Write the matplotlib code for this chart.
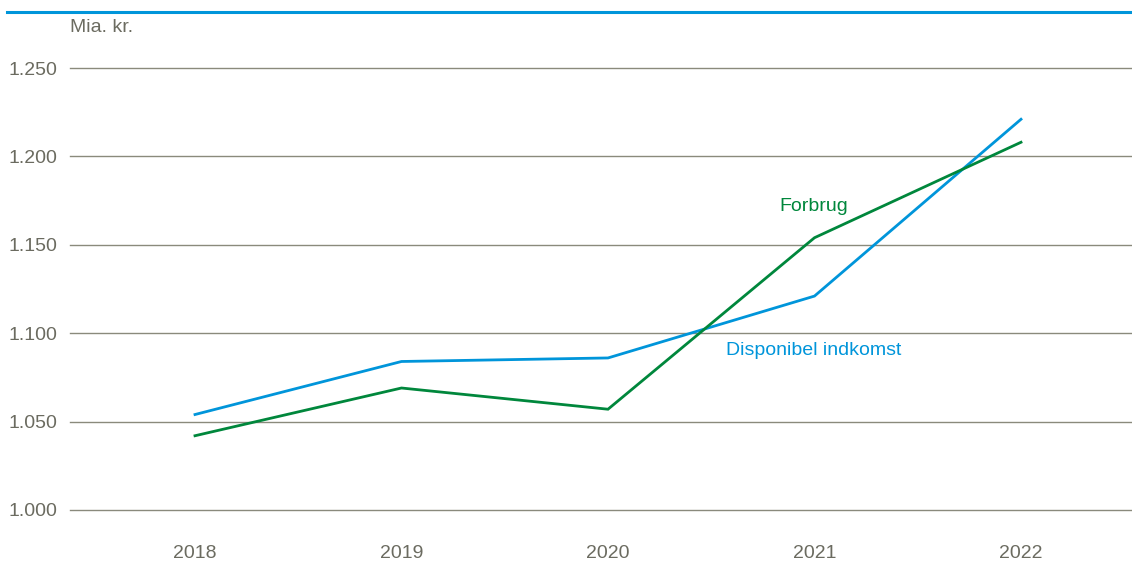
import matplotlib
matplotlib.use("Agg")
import matplotlib.pyplot as plt
from matplotlib.lines import Line2D

years = [2018, 2019, 2020, 2021, 2022]
disponibel = [1.054, 1.084, 1.086, 1.121, 1.221]
forbrug = [1.042, 1.069, 1.057, 1.154, 1.208]
yticks = [1.000, 1.050, 1.100, 1.150, 1.200, 1.250]
ytick_labels = ["1.000", "1.050", "1.100", "1.150", "1.200", "1.250"]

BLUE = "#0095DA"
GREEN = "#00873C"
GRID = "#8A8A7C"
TXT = "#6B6B60"

plt.rcParams["font.family"] = ["Liberation Sans", "DejaVu Sans"]

W, H = 1132, 568
fig = plt.figure(figsize=(W / 100, H / 100), dpi=100)
ax = fig.add_axes([70 / W, (H - 510) / H, (W - 70) / W, 442 / H])

ax.plot(years, disponibel, color=BLUE, lw=2.0, solid_joinstyle="miter", zorder=3)
ax.plot(years, forbrug, color=GREEN, lw=2.0, solid_joinstyle="miter", zorder=3)

ax.set_ylim(1.0, 1.25)
ax.set_xlim(2018 - 125 / 206.5, 2022 + 111 / 206.5)
ax.set_yticks(yticks)
ax.set_yticklabels(ytick_labels)
ax.set_xticks(years)
ax.set_xticklabels([str(y) for y in years])
for y in yticks:
    ax.axhline(y, color=GRID, lw=1.0, zorder=1, clip_on=False)

for s in ax.spines.values():
    s.set_visible(False)
ax.tick_params(axis="both", length=0, labelsize=14, colors=TXT)
ax.tick_params(axis="y", pad=9)
ax.tick_params(axis="x", pad=25)

ax.text(2021.0 - 0.17, 1.1714, "Forbrug", color=GREEN, fontsize=14, ha="left", va="center")
ax.text(2020.57, 1.0900, "Disponibel indkomst", color=BLUE, fontsize=14, ha="left", va="center")

fig.text(70 / W, 1 - 28 / H, "Mia. kr.", color=TXT, fontsize=14, ha="left", va="center")
fig.add_artist(Line2D([7 / W, 1.0], [1 - 12 / H, 1 - 12 / H], color=BLUE, lw=2.2, transform=fig.transFigure))

fig.savefig("out.png", dpi=100)
